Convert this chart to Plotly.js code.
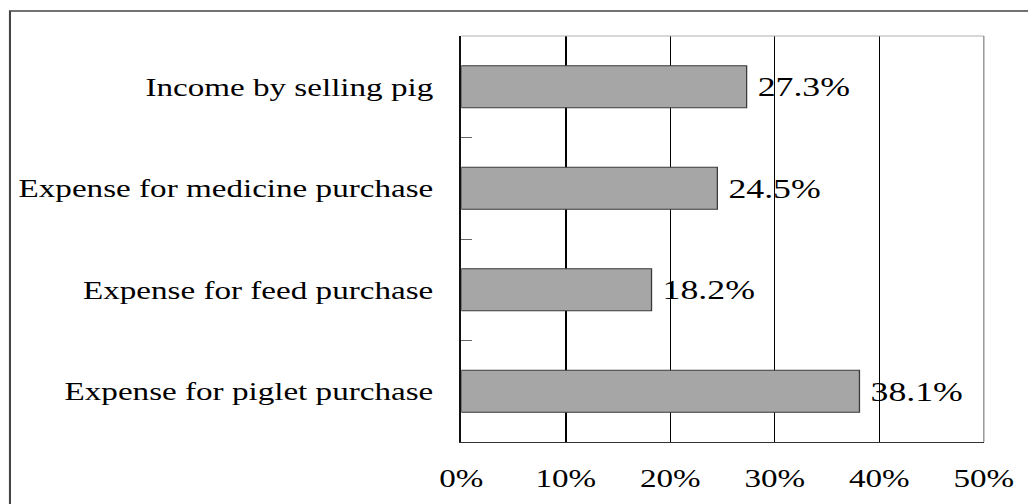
<!DOCTYPE html>
<html>
<head>
<meta charset="utf-8">
<script src="https://cdn.plot.ly/plotly-3.0.1.min.js"></script>
<style>
  html, body { margin: 0; padding: 0; background: #fff; overflow: hidden; }
  #wrap { width: 1028px; height: 504px; overflow: hidden; position: relative; }
  /* the chart is laid out narrower and widened, giving the broad serif lettering */
  #chart { width: 791px; height: 504px; transform: scaleX(1.29962); transform-origin: 0 0; }
</style>
</head>
<body>
<div id="wrap"><div id="chart"></div></div>
<script>
// Share of household cash flow items, listed top to bottom
const categories = [
  'Income by selling pig',
  'Expense for medicine purchase',
  'Expense for feed purchase',
  'Expense for piglet purchase'
];
const shares = [27.3, 24.5, 18.2, 38.1];
const xTickValues = [0, 10, 20, 30, 40, 50];
const xTickLabels = ['0%', '10%', '20%', '30%', '40%', '50%'];

const serif = "'Liberation Serif', 'Times New Roman', serif";
const fontSize = 25.5;
const labelSize = 27.5;

const trace = {
  type: 'bar',
  orientation: 'h',
  y: categories,
  x: shares,
  marker: { color: '#a6a6a6', line: { color: '#3a3a3a', width: 1 } },
  // thin space keeps the value a little clear of the bar end
  text: shares.map(v => '\u2009' + v.toFixed(1) + '%'),
  textposition: 'outside',
  textfont: { family: serif, size: labelSize, color: '#000' },
  constraintext: 'none',
  cliponaxis: false,
  hoverinfo: 'skip'
};

const layout = {
  width: 791,
  height: 504,
  margin: { l: 355, r: 34, t: 36, b: 62, pad: 0 },
  paper_bgcolor: '#fff',
  plot_bgcolor: '#fff',
  showlegend: false,
  bargap: 0.586,
  font: { family: serif, size: fontSize, color: '#000' },
  xaxis: {
    range: [0, 50],
    tickvals: xTickValues,
    ticktext: xTickLabels,
    ticks: '',
    ticklabelstandoff: 13,
    showgrid: true,
    gridcolor: '#000',
    gridwidth: 1,
    zeroline: false,
    showline: true,
    linecolor: '#333',
    linewidth: 1.2,
    tickfont: { family: serif, size: fontSize, color: '#000' },
    fixedrange: true
  },
  yaxis: {
    type: 'category',
    autorange: 'reversed',
    ticks: 'inside',
    tickson: 'boundaries',
    ticklen: 8,
    tickwidth: 1,
    tickcolor: '#666',
    ticklabelstandoff: 15,
    showgrid: false,
    zeroline: false,
    showline: true,
    linecolor: '#111',
    linewidth: 1.5,
    tickfont: { family: serif, size: fontSize, color: '#000' },
    fixedrange: true
  },
  shapes: [
    // plot area frame: top and right edges
    { type: 'line', xref: 'paper', yref: 'paper', x0: 0, x1: 1, y0: 1, y1: 1,
      line: { color: '#b0b0b0', width: 1.2 }, layer: 'above' },
    { type: 'line', xref: 'paper', yref: 'paper', x0: 1, x1: 1, y0: 0, y1: 1,
      line: { color: '#8a8a8a', width: 1 }, layer: 'above' },
    // outer chart border
    { type: 'rect', xref: 'paper', yref: 'paper', x0: -0.864, x1: 1.3, y0: -0.3, y1: 1.0616,
      line: { color: '#444', width: 1.6 }, fillcolor: 'rgba(0,0,0,0)', layer: 'below' }
  ]
};

Plotly.newPlot('chart', [trace], layout, { displayModeBar: false, staticPlot: true });
</script>
</body>
</html>
